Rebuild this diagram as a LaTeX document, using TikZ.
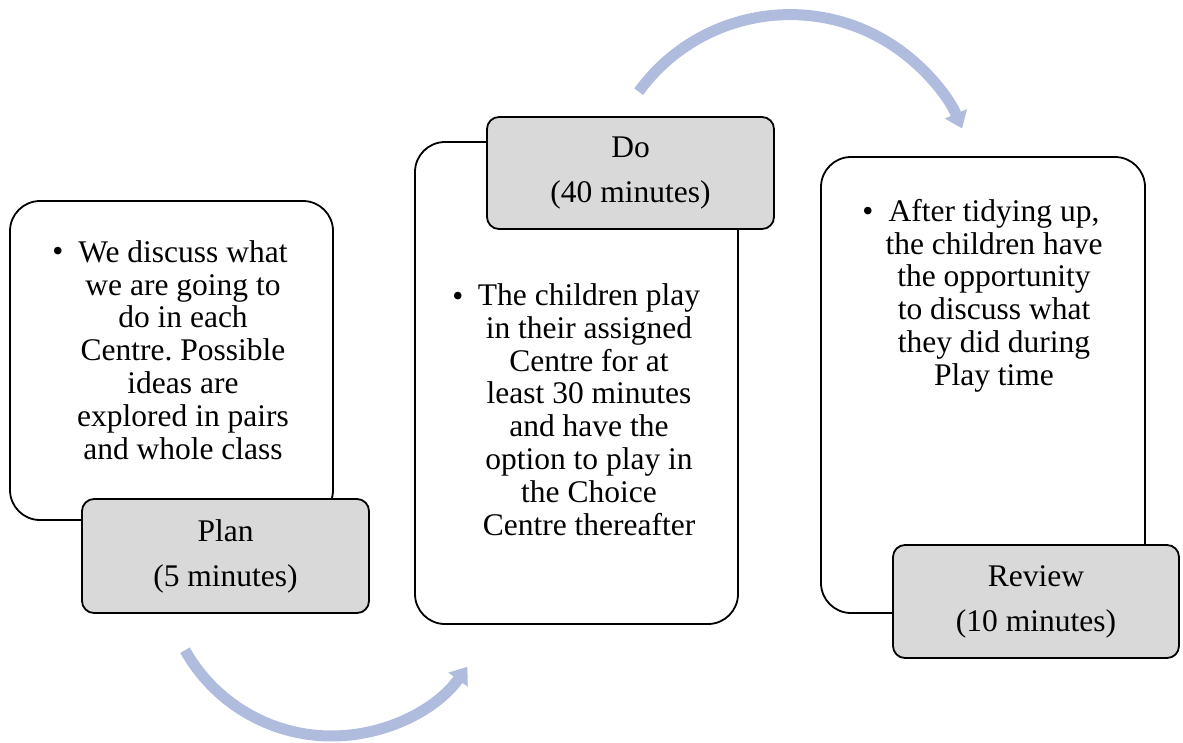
\documentclass[tikz,border=0pt]{standalone}
\usepackage{fontspec}
\setmainfont{Liberation Serif}
\usetikzlibrary{arrows.meta}
\definecolor{arrowblue}{RGB}{176,188,222}
\definecolor{boxgray}{RGB}{217,217,217}
\frenchspacing
\tikzset{
  whitebox/.style={draw=black, line width=1.8pt, fill=white, rounded corners=30pt, inner sep=0pt},
  graybox/.style={draw=black, line width=1.8pt, fill=boxgray, rounded corners=12pt, inner sep=0pt,
    align=center, font=\fontsize{31.5}{45}\selectfont},
  bodytext/.style={align=center, inner sep=0pt, font=\fontsize{31.5}{32.8}\selectfont},
  bulletmark/.style={inner sep=0pt, anchor=base, font=\fontsize{31.5}{32.8}\selectfont},
  cyclearrow/.style={draw=arrowblue, line width=11pt, -{Triangle[width=23pt,length=16pt]}}
}
\begin{document}
\begin{tikzpicture}[x=1pt,y=-1pt]
\useasboundingbox (0,0) rectangle (1183,742);
% white boxes
\node[whitebox, minimum width=323pt, minimum height=319pt] (planbox) at (171.5,360.5) {};
\node[whitebox, minimum width=323pt, minimum height=482pt] (dobox) at (576.5,383) {};
\node[whitebox, minimum width=324pt, minimum height=456pt] (reviewbox) at (983,385) {};
% body texts
\node[bulletmark] (planbul) at (58,261) {•};
\node[bodytext] (plantext) at (183,350) {We discuss what\\we are going to\\do in each\\Centre. Possible\\ideas are\\explored in pairs\\and whole class};
\node[bulletmark] (dobul) at (458,306) {•};
\node[bodytext] (dotext) at (589,409.5) {The children play\\in their assigned\\Centre for at\\least 30 minutes\\and have the\\option to play in\\the Choice\\Centre thereafter};
\node[bulletmark] (reviewbul) at (868,221) {•};
\node[bodytext] (reviewtext) at (994,295.6) {After tidying up,\\the children have\\the opportunity\\to discuss what\\they did during\\Play time};
% gray title boxes
\node[graybox, minimum width=287pt, minimum height=114pt] (plantitle) at (225.5,556) {Plan\\(5 minutes)};
\node[graybox, minimum width=287pt, minimum height=112pt] (dotitle) at (630.5,173) {Do\\(40 minutes)};
\node[graybox, minimum width=286pt, minimum height=113pt] (reviewtitle) at (1036,601.5) {Review\\(10 minutes)};
% cycle arrows
\coordinate (arcA) at (331.5,568);
\coordinate (arcB) at (790,201.6);
\draw[cyclearrow] ([shift={(150.7:168)}]arcA) arc[start angle=150.7, end angle=36, radius=168];
\draw[cyclearrow] ([shift={(216:187)}]arcB) arc[start angle=216, end angle=337, radius=187];
\end{tikzpicture}
\end{document}
